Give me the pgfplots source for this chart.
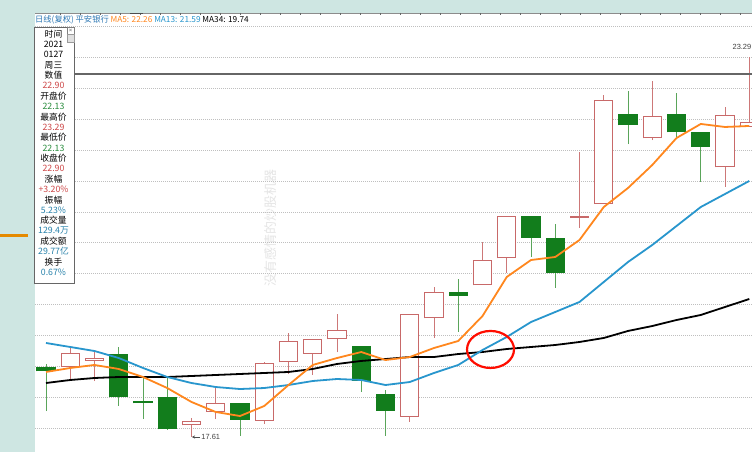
\documentclass[border=0pt]{standalone}
\usepackage{pgfplots}
\usepackage{pgfplotstable}
\pgfplotsset{compat=1.18}
\usetikzlibrary{arrows.meta}
\usepackage{fontspec}
\setmainfont{Liberation Sans}
\newfontfamily\cjk{Noto Sans CJK SC}
\definecolor{bgteal}{RGB}{206,230,226}
\definecolor{upred}{RGB}{200,105,105}
\definecolor{upwick}{RGB}{205,120,120}
\definecolor{dngreen}{RGB}{18,125,28}
\definecolor{dnwick}{RGB}{90,165,90}
\definecolor{ma5}{RGB}{255,135,30}
\definecolor{ma13}{RGB}{40,150,205}
\definecolor{titleblue}{RGB}{45,120,180}
\definecolor{valred}{RGB}{205,70,70}
\definecolor{valgreen}{RGB}{40,140,60}
\definecolor{valblue}{RGB}{40,130,170}
% up (red, hollow) candles: index open high low close
\pgfplotstableread{
i o h l c
2 18.658 18.957 18.463 18.867
3 18.762 18.912 18.448 18.792
7 17.790 17.894 17.610 17.835
8 17.999 18.343 17.879 18.104
10 17.864 18.733 17.805 18.703
11 18.733 19.167 18.553 19.032
12 18.867 19.077 18.538 19.062
13 19.077 19.451 18.882 19.197
16 17.924 19.451 17.835 19.436
17 19.391 19.855 19.092 19.780
19 19.885 20.529 19.885 20.259
20 20.289 20.918 20.065 20.903
23 20.895 21.876 20.738 20.910
24 21.112 22.729 21.112 22.639
26 22.085 22.938 22.055 22.414
29 21.651 22.549 21.352 22.429
30 22.250 23.290 22.250 22.310
}\upT
% down (green, filled) candles
\pgfplotstableread{
i o h l c
1 18.643 18.703 17.999 18.598
4 18.852 18.957 18.074 18.209
5 18.141 18.508 17.879 18.119
6 18.194 18.508 17.715 17.730
9 18.104 18.119 17.625 17.879
14 18.957 18.972 18.284 18.463
15 18.239 18.313 17.625 18.014
18 19.780 19.975 19.182 19.735
21 20.903 20.918 20.304 20.603
22 20.574 20.798 19.840 20.065
25 22.444 22.789 21.995 22.280
27 22.444 22.759 22.100 22.175
28 22.160 22.160 21.427 21.965
}\dnT
\pgfplotsset{candle/.style={draw=none, mark=none, forget plot, error bars/.cd, y dir=plus, y explicit, error mark=none}}
\begin{document}
\begin{tikzpicture}[x=1bp,y=1bp]
\useasboundingbox (0,0) rectangle (752,452);
\clip (0,0) rectangle (752,452);
\fill[bgteal] (0,0) rectangle (752,452);
\fill[white] (35,0) rectangle (752,439);
\node[rotate=90, text=black!10] at (271,224) {\cjk\fontsize{13}{13}\selectfont 没有感情的炒股机器};
\begin{axis}[at={(35bp,0bp)}, anchor=south west, scale only axis, width=717bp, height=439bp,
  xmin=0.5464, xmax=30.113, ymin=17.3855, ymax=23.956,
  axis line style={draw=none}, xtick=\empty,
  ytick={17.745,18.207,18.668,19.130,19.592,20.054,20.515,20.977,21.439,21.901,22.362,22.824,23.286,23.748},
  yticklabel=\empty, major tick length=0, ymajorgrids,
  grid style={black!25, line width=0.9bp, dash pattern=on 1bp off 1bp},
  clip=true]
% wicks
\addplot[candle, error bar style={draw=upwick, line width=1bp}]
  table[x=i, y=l, y error plus expr=\thisrow{h}-\thisrow{l}] {\upT};
\addplot[candle, error bar style={draw=dnwick, line width=1bp}]
  table[x=i, y=l, y error plus expr=\thisrow{h}-\thisrow{l}] {\dnT};
% green bodies
\addplot[candle, error bar style={draw=dngreen, line width=19.4bp}]
  table[x=i, y expr=\thisrow{c}-0.0075, y error plus expr=\thisrow{o}-\thisrow{c}+0.015] {\dnT};
% red hollow bodies
\addplot[candle, error bar style={draw=upred, line width=19.4bp}]
  table[x=i, y expr=\thisrow{o}-0.0075, y error plus expr=\thisrow{c}-\thisrow{o}+0.015] {\upT};
\addplot[candle, error bar style={draw=white, line width=17.4bp}]
  table[x=i, y expr=\thisrow{o}+0.0075, y error plus expr={max(\thisrow{c}-\thisrow{o}-0.015,0)}] {\upT};
% MA34
\addplot[black, line width=1.8bp, line join=round, mark=none] coordinates {
(1,18.418)(2,18.463)(3,18.493)(4,18.508)(5,18.508)(6,18.508)(7,18.523)(8,18.538)(9,18.553)(10,18.568)
(11,18.583)(12,18.628)(13,18.703)(14,18.748)(15,18.777)(16,18.807)(17,18.807)(18,18.852)(19,18.882)(20,18.927)
(21,18.957)(22,18.987)(23,19.032)(24,19.092)(25,19.197)(26,19.271)(27,19.361)(28,19.436)(29,19.556)(30,19.675)};
% MA13
\addplot[ma13, line width=1.8bp, line join=round, mark=none] coordinates {
(1,19.017)(2,18.957)(3,18.897)(4,18.792)(5,18.643)(6,18.508)(7,18.418)(8,18.358)(9,18.328)(10,18.343)
(11,18.388)(12,18.448)(13,18.478)(14,18.463)(15,18.388)(16,18.433)(17,18.568)(18,18.688)(19,18.912)(20,19.107)
(21,19.331)(22,19.481)(23,19.631)(24,19.930)(25,20.229)(26,20.484)(27,20.768)(28,21.052)(29,21.247)(30,21.442)};
% MA5
\addplot[ma5, line width=1.8bp, line join=round, mark=none] coordinates {
(1,18.583)(2,18.643)(3,18.688)(4,18.628)(5,18.508)(6,18.343)(7,18.134)(8,17.984)(9,17.924)(10,18.074)
(11,18.388)(12,18.688)(13,18.792)(14,18.882)(15,18.762)(16,18.807)(17,18.942)(18,19.047)(19,19.421)(20,20.005)
(21,20.259)(22,20.304)(23,20.559)(24,21.052)(25,21.337)(26,21.681)(27,22.085)(28,22.295)(29,22.250)(30,22.265)};
% annotation circle
\draw[red!90!orange, line width=2.2bp] (axis cs:19.33,18.920) ellipse [x radius=23.5bp, y radius=18.5bp];
% low label
\draw[black!70, line width=0.8bp, -{Stealth[length=3bp,width=3bp]}] (axis cs:7.36,17.61) -- (axis cs:7.02,17.61);
\node[anchor=west, inner sep=0.5bp, text=black!75] at (axis cs:7.38,17.61) {\fontsize{7.5}{8}\selectfont 17.61};
\end{axis}
% crosshair
\draw[black!60, line width=1.3bp] (74,378) -- (752,378);
% top border ticks
\draw[black!45, line width=0.8bp] (35,438.6) -- (752,438.6);
\foreach \x in {60,80,...,740} \draw[black!60, line width=0.8bp] (\x,439) -- (\x,436.5);
\draw[black!70, line width=1.5bp] (130,438.6) -- (143,438.6);
% high label
\node[anchor=east, inner sep=0.5bp, text=black!75] at (752,405) {\fontsize{7.5}{8}\selectfont 23.29};
% left orange line
\draw[orange!80!yellow!90!black, line width=3bp] (0,216) -- (28,216);
% title
\node[anchor=west, inner sep=0] at (35,432.5) {\cjk\fontsize{8.3}{9}\selectfont\color{titleblue}日线(复权) 平安银行 \color{ma5}MA5: 22.26 \color{ma13}MA13: 21.59 \color{black}MA34: 19.74};
% info panel
\draw[black!60, fill=white, line width=0.8bp] (34,425) rectangle (74,169);
\draw[black!50, fill=white, line width=0.6bp] (67,425) rectangle (74,418);
\node[inner sep=0, text=black!60] at (70.5,421.5) {\fontsize{6}{6}\selectfont ×};
\draw[black!40, fill=black!12, line width=0.6bp] (67,418) rectangle (74,410);
\foreach \t/\c [count=\i from 0] in {时间/black, 2021/black, 0127/black, 周三/black, 数值/black, 22.90/valred, 开盘价/black, 22.13/valgreen, 最高价/black, 23.29/valred, 最低价/black, 22.13/valgreen, 收盘价/black, 22.90/valred, 涨幅/black, +3.20\%/valred, 振幅/black, 5.23\%/valblue, 成交量/black, 129.4万/valblue, 成交额/black, 29.77亿/valblue, 换手/black, 0.67\%/valblue}
  \node[inner sep=0, text=\c] at (53.5,{418-10.36*\i}) {\cjk\fontsize{8.8}{9}\selectfont \t};
\end{tikzpicture}
\end{document}
